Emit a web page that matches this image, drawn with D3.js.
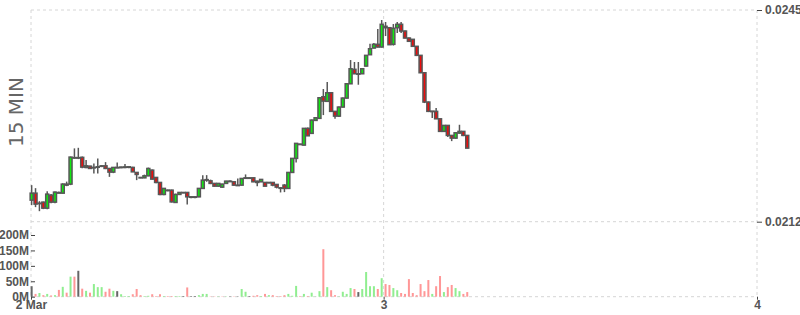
<!DOCTYPE html>
<html>
<head>
<meta charset="utf-8">
<script src="https://cdn.jsdelivr.net/npm/d3@7"></script>
<style>
body { margin: 0; background: #fff; }
svg { display: block; font-family: "DejaVu Sans", sans-serif; }
.axis text { font-size: 12px; font-weight: bold; fill: #555; }
.axis line { stroke: #444; }
.axis path { display: none; }
</style>
</head>
<body>
<div id="chart"></div>
<script>
var width = 800, height = 315;

// 15 minute candles, first one opens 2 Mar 01:15 (UTC)
var startTime = Date.UTC(2020, 2, 2, 1, 15);
var candleMs = 15 * 60 * 1000;

var open = [0.021536,0.021645,0.021489,0.021505,0.021411,0.021614,0.021505,0.021653,0.021645,0.021786,
  0.021786,0.022199,0.022199,0.022203,0.022046,0.022066,0.022046,0.022056,0.022071,0.022071,
  0.022030,0.021973,0.022046,0.022046,0.022051,0.022054,0.022046,0.021968,0.021890,0.021884,
  0.021915,0.022004,0.021890,0.021812,0.021625,0.021692,0.021692,0.021500,0.021625,0.021656,
  0.021656,0.021588,0.021588,0.021588,0.021719,0.021848,0.021837,0.021797,0.021754,0.021739,
  0.021797,0.021832,0.021822,0.021770,0.021770,0.021884,0.021884,0.021884,0.021832,0.021822,
  0.021812,0.021812,0.021812,0.021781,0.021728,0.021770,0.021719,0.021968,0.022187,0.022410,
  0.022394,0.022655,0.022577,0.022779,0.022811,0.023148,0.023076,0.023210,0.022920,0.022846,
  0.022987,0.023127,0.023350,0.023575,0.023506,0.023506,0.023626,0.023803,0.023907,0.023965,
  0.023923,0.024246,0.024224,0.023965,0.024224,0.024277,0.024172,0.024063,0.024043,0.023934,
  0.023793,0.023522,0.023065,0.022920,0.022920,0.022804,0.022608,0.022701,0.022545,0.022503,
  0.022581,0.022608,0.022545];
var high = [0.021770,0.021723,0.021520,0.021513,0.021676,0.021630,0.021669,0.021669,0.021801,0.021825,
  0.022215,0.022343,0.022352,0.022215,0.022160,0.022074,0.022109,0.022187,0.022079,0.022129,
  0.022035,0.022051,0.022124,0.022059,0.022098,0.022059,0.022056,0.021973,0.021895,0.021934,
  0.022043,0.022012,0.021895,0.021817,0.021723,0.021700,0.021700,0.021637,0.021661,0.021661,
  0.021661,0.021591,0.021591,0.021723,0.021926,0.021926,0.021856,0.021801,0.021801,0.021793,
  0.021840,0.021848,0.021825,0.021874,0.021879,0.021937,0.021887,0.021887,0.021840,0.021864,
  0.021817,0.021817,0.021817,0.021786,0.021739,0.021786,0.021973,0.022191,0.022425,0.022417,
  0.022659,0.022667,0.022792,0.022823,0.023135,0.023268,0.023377,0.023213,0.022924,0.022995,
  0.023135,0.023361,0.023720,0.023689,0.023689,0.023587,0.023798,0.023974,0.023985,0.024204,
  0.024344,0.024313,0.024227,0.024281,0.024313,0.024313,0.024180,0.024071,0.024048,0.023938,
  0.023798,0.023525,0.023073,0.022924,0.022971,0.022807,0.022706,0.022706,0.022550,0.022589,
  0.022711,0.022612,0.022550];
var low = [0.021458,0.021427,0.021364,0.021396,0.021396,0.021489,0.021489,0.021645,0.021640,0.021754,
  0.021770,0.022183,0.022176,0.022035,0.022035,0.022020,0.021953,0.021953,0.022051,0.022020,
  0.021899,0.021957,0.022035,0.022035,0.022035,0.022035,0.021973,0.021848,0.021879,0.021879,
  0.021910,0.021856,0.021801,0.021614,0.021614,0.021676,0.021500,0.021494,0.021622,0.021645,
  0.021469,0.021567,0.021567,0.021583,0.021716,0.021822,0.021786,0.021747,0.021747,0.021731,
  0.021793,0.021817,0.021762,0.021762,0.021762,0.021879,0.021879,0.021817,0.021754,0.021817,
  0.021747,0.021801,0.021754,0.021719,0.021656,0.021661,0.021716,0.021965,0.022124,0.022394,
  0.022386,0.022534,0.022573,0.022776,0.022807,0.022862,0.023073,0.022909,0.022804,0.022831,
  0.022979,0.023119,0.023346,0.023502,0.023335,0.023502,0.023619,0.023798,0.023899,0.023915,
  0.023915,0.024094,0.023954,0.023946,0.024141,0.024141,0.024055,0.024001,0.023923,0.023782,
  0.023517,0.023049,0.022909,0.022815,0.022800,0.022605,0.022605,0.022519,0.022456,0.022495,
  0.022573,0.022534,0.022343];
var close = [0.021645,0.021474,0.021489,0.021411,0.021630,0.021505,0.021661,0.021653,0.021786,0.021770,
  0.022207,0.022199,0.022199,0.022051,0.022071,0.022030,0.022046,0.022056,0.022071,0.022030,
  0.021973,0.022046,0.022046,0.022051,0.022054,0.022056,0.021977,0.021937,0.021890,0.021915,
  0.022030,0.021864,0.021812,0.021625,0.021719,0.021692,0.021509,0.021625,0.021656,0.021656,
  0.021588,0.021588,0.021588,0.021719,0.021848,0.021856,0.021797,0.021754,0.021797,0.021786,
  0.021832,0.021832,0.021770,0.021770,0.021874,0.021884,0.021884,0.021822,0.021812,0.021859,
  0.021754,0.021812,0.021770,0.021739,0.021728,0.021719,0.021968,0.022187,0.022421,0.022410,
  0.022655,0.022539,0.022784,0.022820,0.023132,0.023080,0.023210,0.022920,0.022846,0.022987,
  0.023127,0.023350,0.023584,0.023506,0.023506,0.023584,0.023793,0.023896,0.023965,0.023923,
  0.024277,0.024224,0.023959,0.024215,0.024277,0.024172,0.024063,0.024012,0.023934,0.023793,
  0.023522,0.023065,0.022920,0.022924,0.022804,0.022608,0.022701,0.022545,0.022503,0.022586,
  0.022608,0.022545,0.022347];
// volume in millions
var volume = [34,9,12,5,9,4,5,22,32,13,
  65,65,84,26,19,13,41,31,31,16,
  26,19,18,8,2,2,8,25,5,2,
  3,8,2,8,2,2,2,2,2,2,
  30,2,2,5,9,9,1,1,1,1,
  1,1,1,1,25,16,2,3,5,2,
  9,5,5,2,2,5,9,3,35,2,
  9,2,13,1,18,154,31,21,5,1,
  16,9,28,25,15,25,80,34,34,25,
  60,41,38,28,21,12,9,57,12,5,
  41,18,54,9,34,67,15,31,38,28,
  18,9,15];

var priceTicks = [0.0212, 0.0245];
var volumeTicks = [0, 50, 100, 150, 200];
var dateTicks = [Date.UTC(2020, 2, 2, 1, 20), Date.UTC(2020, 2, 3), Date.UTC(2020, 2, 4)];
var dateLabels = ["2 Mar", "3", "4"];

var upColor = "#10ea10", downColor = "#ee0c0c", edge = "#575757";

var svg = d3.select("#chart")
    .append("svg")
    .attr("width", width)
    .attr("height", height);

var x = d3.scaleUtc()
    .domain([new Date(dateTicks[0]), new Date(dateTicks[2])])
    .range([31, 757]);
var y = d3.scaleLinear().domain([0.0212, 0.0245]).range([221.7, 10]);
var yVol = d3.scaleLinear().domain([0, 200]).range([296.7, 235]);

var candles = open.map(function(o, i) {
    return {
        t: new Date(startTime + i * candleMs + candleMs / 2),
        o: o, h: high[i], l: low[i], c: close[i], v: volume[i],
        prev: i > 0 ? close[i - 1] : null
    };
});

// dashed grid
var grid = svg.append("g")
    .attr("stroke", "#d6d6d6")
    .attr("stroke-dasharray", "3,3");
grid.selectAll(".h")
    .data([y(priceTicks[1]), y(priceTicks[0]), yVol(0)])
    .join("line")
    .attr("x1", x.range()[0]).attr("x2", x.range()[1])
    .attr("y1", function(d) { return d; }).attr("y2", function(d) { return d; });
grid.selectAll(".v")
    .data(dateTicks)
    .join("line")
    .attr("x1", function(d) { return x(d); }).attr("x2", function(d) { return x(d); })
    .attr("y1", y(priceTicks[1])).attr("y2", yVol(0));

// volume bars
svg.append("g").selectAll("rect")
    .data(candles)
    .join("rect")
    .attr("x", function(d) { return x(d.t) - 1; })
    .attr("width", 2)
    .attr("y", function(d) { return yVol(d.v); })
    .attr("height", function(d) { return yVol(0) - yVol(d.v); })
    .attr("fill", function(d) {
        if (d.prev === null || d.c === d.prev) return "#666";
        return d.c > d.prev ? "#90ee90" : "#ff9797";
    });

// candles
var candle = svg.append("g").selectAll("g")
    .data(candles)
    .join("g");
candle.append("line")
    .attr("x1", function(d) { return x(d.t); })
    .attr("x2", function(d) { return x(d.t); })
    .attr("y1", function(d) { return y(d.h); })
    .attr("y2", function(d) { return y(d.l); })
    .attr("stroke", edge)
    .attr("stroke-width", 1.5);
candle.append("rect")
    .attr("x", function(d) { return x(d.t) - 1.5; })
    .attr("width", 3)
    .attr("y", function(d) { return y(Math.max(d.o, d.c)); })
    .attr("height", function(d) { return Math.max(0.5, Math.abs(y(d.o) - y(d.c))); })
    .attr("fill", function(d) { return d.c >= d.o ? upColor : downColor; })
    .attr("stroke", edge)
    .attr("stroke-width", 1.5);

// axes
svg.append("g")
    .attr("class", "axis")
    .attr("transform", "translate(757,0)")
    .call(d3.axisRight(y).tickValues(priceTicks).tickFormat(d3.format(".4f")).tickSize(5).tickPadding(3));

svg.append("g")
    .attr("class", "axis")
    .attr("transform", "translate(31,0)")
    .call(d3.axisLeft(yVol).tickValues(volumeTicks).tickFormat(function(d) { return d + "M"; }).tickSize(-4).tickPadding(2));

svg.append("g")
    .attr("class", "axis")
    .attr("transform", "translate(0," + yVol(0) + ")")
    .call(d3.axisBottom(x).tickValues(dateTicks.map(function(d) { return new Date(d); }))
        .tickFormat(function(d, i) { return dateLabels[i]; }).tickSize(3).tickPadding(1));

svg.append("text")
    .attr("transform", "translate(23,112) rotate(-90)")
    .attr("text-anchor", "middle")
    .style("font-size", "20px")
    .style("fill", "#666")
    .text("15 MIN");
</script>
</body>
</html>
